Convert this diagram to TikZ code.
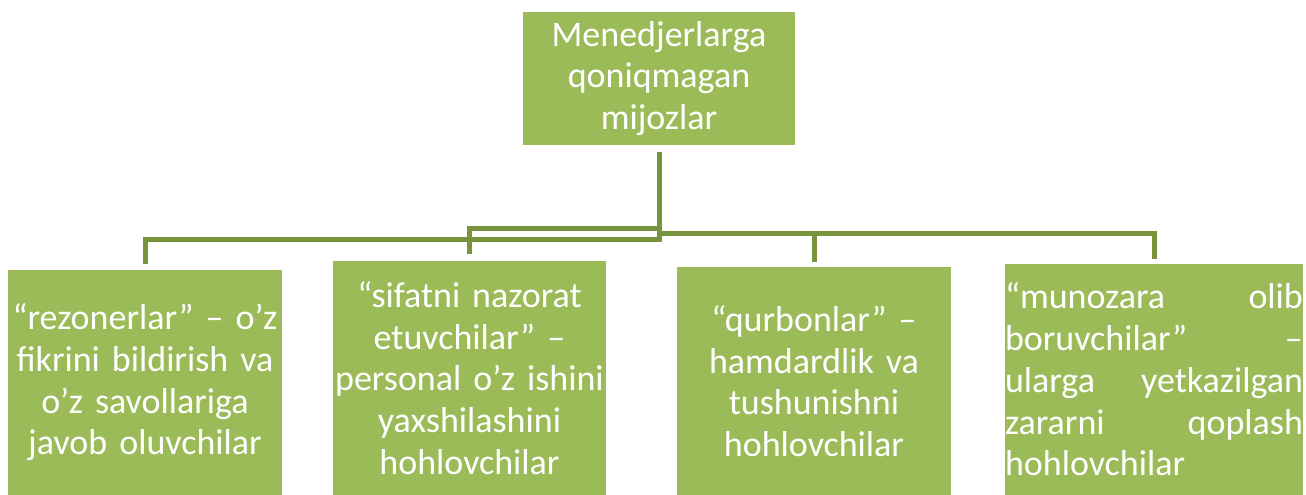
\documentclass[tikz,border=0pt]{standalone}
\usepackage{fontspec}
\setmainfont{Carlito}
\usepackage{tikz}
\usetikzlibrary{positioning}
\usepackage{xcolor}
\definecolor{boxgreen}{HTML}{9BBB59}
\definecolor{linkgreen}{HTML}{77933C}

\begin{document}
\begin{tikzpicture}[
        x=1pt, y=-1pt,
        gnode/.style={rectangle, fill=boxgreen, text=white, inner sep=0pt, align=center,
            font=\fontsize{36}{41.7}\selectfont},
        link/.style={draw=linkgreen, line width=5pt, shorten <=7pt}
    ]
        \useasboundingbox (0,0) rectangle (1306,495);

        \node[gnode, minimum width=272pt, minimum height=133pt, text width=272pt] (A) at (659,78.5)
            {Menedjerlarga\\qoniqmagan\\mijozlar};
        \node[gnode, minimum width=274pt, minimum height=225pt, text width=274pt] (B) at (145,382.5)
            {“rezonerlar” – o’z\\fikrini bildirish va\\o’z savollariga\\javob oluvchilar};
        \node[gnode, minimum width=273pt, minimum height=234pt, text width=273pt] (C) at (469.5,378)
            {“sifatni nazorat\\etuvchilar” –\\personal o’z ishini\\yaxshilashini\\hohlovchilar};
        \node[gnode, minimum width=274pt, minimum height=228pt, text width=274pt] (D) at (814,381)
            {“qurbonlar” –\\hamdardlik va\\tushunishni\\hohlovchilar};
        \node[gnode, align=left, minimum width=298pt, minimum height=231pt, text width=298pt] (E) at (1154,379.5)
            {“munozara \hfill olib\\boruvchilar” \hfill –\\ularga \hfill yetkazilgan\\zararni \hfill qoplash\\hohlovchilar};

        \draw[link, shorten >=6pt] (A.south) -- ++(0,94) -| (B.north);
        \draw[link, shorten >=7pt] (A.south) -- ++(0,83) -| (C.north);
        \draw[link, shorten >=5pt] (A.south) -- ++(0,88) -| (D.north);
        \draw[link, shorten >=5pt] (A.south) -- ++(0,88) -| (E.north);
    \end{tikzpicture}
\end{document}
